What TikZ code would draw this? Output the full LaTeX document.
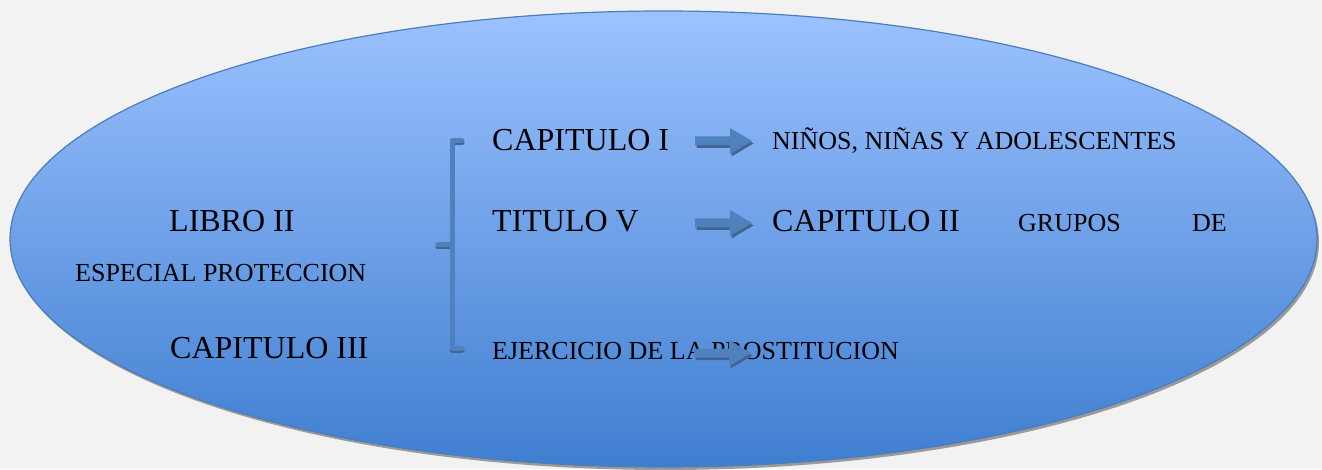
\documentclass[tikz,border=0pt]{standalone}
\usepackage{fontspec}
\setmainfont{Liberation Serif}
\definecolor{bgc}{HTML}{F2F2F2}
\definecolor{topc}{HTML}{9CC2FF}
\definecolor{botc}{HTML}{3F7ED0}
\definecolor{edgec}{HTML}{4A7EBB}
\definecolor{arrc}{HTML}{4F81BD}
\definecolor{arrsh}{HTML}{43648F}
\definecolor{shc}{HTML}{9A9A9A}
\tikzset{
  big/.style={anchor=base west, inner sep=0pt, font=\fontsize{32}{38}\selectfont},
  small/.style={anchor=base west, inner sep=0pt, font=\fontsize{26}{31}\selectfont},
  bracketline/.style={draw=arrc, line width=5pt, line cap=round, line join=round},
  bracketshadow/.style={draw=arrsh, line width=5pt, line cap=round, line join=round},
}
\newcommand{\arrowpath}[4]{% start, tip, dx, dy
  ([shift={(#3,4.5+#4)}]#1) -- ([shift={(-22+#3,4.5+#4)}]#2) -- ([shift={(-22+#3,13+#4)}]#2)
  -- ([shift={(#3,#4)}]#2) -- ([shift={(-22+#3,-13+#4)}]#2) -- ([shift={(-22+#3,-4.5+#4)}]#2)
  -- ([shift={(#3,-4.5+#4)}]#1) -- cycle
}
\newcommand{\blockarrow}[2]{%
  \fill[arrsh] \arrowpath{#1}{#2}{1.5}{-2.5};
  \fill[arrc] \arrowpath{#1}{#2}{0}{0};
}
\begin{document}
\begin{tikzpicture}[x=1pt,y=1pt]
\fill[bgc] (0,0) rectangle (1322,469);
\useasboundingbox (0,0) rectangle (1322,469);
% ellipse with shadow
\fill[shc] (665.5,227) ellipse [x radius=653.5, y radius=228];
\shade[top color=topc, bottom color=botc, draw=edgec, line width=1.2pt]
  (663.5,230) ellipse [x radius=653.5, y radius=228];
% bracket
\coordinate (bt) at (462,328);
\coordinate (btc) at (452,328);
\coordinate (bm) at (452,224);
\coordinate (bml) at (438,224);
\coordinate (bbc) at (452,121);
\coordinate (bb) at (462,121);
\draw[bracketshadow] ([shift={(0,-2)}]bt) -- ([shift={(0,-2)}]btc) -- ([shift={(0,-2)}]bbc) -- ([shift={(0,-2)}]bb);
\draw[bracketshadow] ([shift={(0,-2)}]bm) -- ([shift={(0,-2)}]bml);
\draw[bracketline] (bt) -- (btc) -- (bbc) -- (bb);
\draw[bracketline] (bm) -- (bml);
% texts
\node[big] (libro) at (169,237) {LIBRO II};
\node[small] (esp) at (75,187) {ESPECIAL PROTECCION};
\node[big] (cap3) at (170,111) {CAPITULO III};
\node[big] (cap1) at (492,318) {CAPITULO I};
\node[big] (tit5) at (492,237) {TITULO V};
\node[small] (ejer) at (492,110) {EJERCICIO DE LA PROSTITUCION};
\node[small] (ninos) at (772,319) {NIÑOS, NIÑAS Y ADOLESCENTES};
\node[big] (cap2) at (772,237) {CAPITULO II};
\node[small] (grupos) at (1018,237) {GRUPOS};
\node[small] (de) at (1192,237) {DE};
% arrows
\coordinate (a1s) at (695,328);
\coordinate (a1t) at (752,328);
\coordinate (a2s) at (695,246);
\coordinate (a2t) at (752,246);
\coordinate (a3s) at (694,116);
\coordinate (a3t) at (751,116);
\blockarrow{a1s}{a1t}
\blockarrow{a2s}{a2t}
\blockarrow{a3s}{a3t}
\end{tikzpicture}
\end{document}
